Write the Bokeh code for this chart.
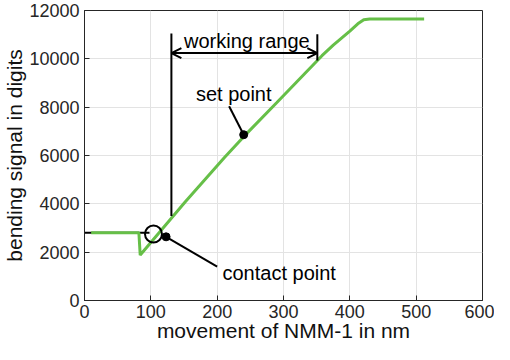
from bokeh.plotting import figure
from bokeh.models import Range1d, FixedTicker, Arrow, OpenHead, Label
from bokeh.embed import file_html
from bokeh.resources import INLINE

# measured bending signal (digits) vs. NMM-1 movement (nm)
curve_x = [10, 82, 84, 100, 152, 211, 240, 290, 358, 375, 400, 412, 421, 430, 512]
curve_y = [2800, 2800, 1880, 2400, 4090, 5920, 6780, 8190, 10130, 10565, 11150, 11450, 11620, 11650, 11650]

# reference (pre-contact) level line
base_x = [0, 98]
base_y = [2800, 2800]

# annotation positions (data units)
contact_circle = (104, 2750)
contact_dot = (123, 2635)
contact_leader_x = [123, 200]
contact_leader_y = [2635, 1400]
set_dot = (240, 6860)
set_leader_x = [218, 240]
set_leader_y = [8040, 6860]
wr_left_x = [131, 131]
wr_left_y = [3500, 11050]
wr_right_x = [351, 351]
wr_right_y = [9930, 11020]
wr_arrow = (131, 351, 10240)

x_ticks = [0, 100, 200, 300, 400, 500, 600]
y_ticks = [0, 2000, 4000, 6000, 8000, 10000, 12000]
x_label = "movement of NMM-1 in nm"
y_label = "bending signal in digits"

FONT = "Liberation Sans"
AX = "#262626"
GREEN = "#66bf48"

p = figure(width=494, height=344, output_backend="svg", toolbar_location=None,
           x_range=Range1d(0, 600), y_range=Range1d(0, 12000),
           min_border_left=70, min_border_right=12, min_border_top=10, min_border_bottom=20)
p.background_fill_color = "white"
p.outline_line_color = AX
p.outline_line_width = 1

for ax in (p.xaxis[0], p.yaxis[0]):
    ax.major_label_text_font = FONT
    ax.major_label_text_font_size = "18px"
    ax.major_label_text_color = AX
    ax.axis_label_text_font = FONT
    ax.axis_label_text_font_size = "21px"
    ax.axis_label_text_font_style = "normal"
    ax.axis_label_text_color = "#111111"
    ax.axis_line_color = AX
    ax.major_tick_line_color = AX
    ax.major_tick_in = 5
    ax.major_tick_out = 0
    ax.minor_tick_line_color = None

p.xaxis.ticker = FixedTicker(ticks=x_ticks)
p.yaxis.ticker = FixedTicker(ticks=y_ticks)
p.xaxis.axis_label = x_label
p.yaxis.axis_label = y_label
p.xaxis.major_label_standoff = 4
p.xaxis.axis_label_standoff = -2
p.yaxis.major_label_standoff = 5
p.yaxis.axis_label_standoff = 0

p.xgrid.ticker = FixedTicker(ticks=x_ticks)
p.ygrid.ticker = FixedTicker(ticks=y_ticks)
p.grid.grid_line_color = "#e3e3e3"
p.grid.grid_line_width = 1

# baseline + curve
p.line(base_x, base_y, line_color="black", line_width=2)
p.line(curve_x, curve_y, line_color=GREEN, line_width=3)

# working range
p.line(wr_left_x, wr_left_y, line_color="black", line_width=2)
p.line(wr_right_x, wr_right_y, line_color="black", line_width=2)
p.add_layout(Arrow(x_start=wr_arrow[0], x_end=wr_arrow[1], y_start=wr_arrow[2], y_end=wr_arrow[2],
                   line_color="black", line_width=2,
                   start=OpenHead(size=10, line_color="black", line_width=2),
                   end=OpenHead(size=10, line_color="black", line_width=2)))
p.add_layout(Label(x=150, y=10740, text="working range", text_font=FONT,
                   text_font_size="20px", text_color="black", text_baseline="alphabetic"))

# set point
p.line(set_leader_x, set_leader_y, line_color="black", line_width=2)
p.scatter([set_dot[0]], [set_dot[1]], size=8, color="black")
p.add_layout(Label(x=168, y=8540, text="set point", text_font=FONT,
                   text_font_size="20px", text_color="black", text_baseline="alphabetic"))

# contact point
p.scatter([contact_circle[0]], [contact_circle[1]], marker="circle", size=17,
          fill_color=None, line_color="black", line_width=2)
p.line(contact_leader_x, contact_leader_y, line_color="black", line_width=2)
p.scatter([contact_dot[0]], [contact_dot[1]], size=8, color="black")
p.add_layout(Label(x=208, y=1150, text="contact point", text_font=FONT,
                   text_font_size="20px", text_color="black", text_baseline="alphabetic"))

open("out.html", "w").write(file_html(p, INLINE))
